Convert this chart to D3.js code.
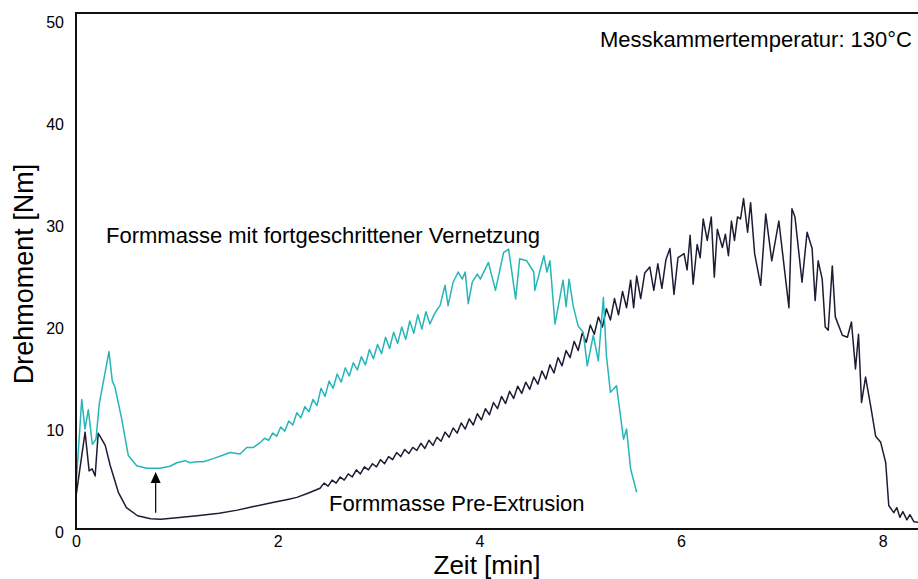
<!DOCTYPE html>
<html>
<head>
<meta charset="utf-8">
<script src="https://cdn.jsdelivr.net/npm/d3@7"></script>
<style>
  html, body { margin: 0; padding: 0; background: #fff; }
  svg { display: block; font-family: Arial, "Liberation Sans", sans-serif; }
</style>
</head>
<body>
<svg id="chart" width="918" height="579"></svg>
<script>
// ---------- data ----------
const xTicks = [0, 2, 4, 6, 8];
const yTicks = [0, 10, 20, 30, 40, 50];

// Formmasse Pre-Extrusion (dark curve)
const preTime = [
  0.00, 0.09, 0.13, 0.16, 0.19, 0.22, 0.29, 0.34, 0.42, 0.50, 0.61, 0.74, 0.84, 1.00, 1.20, 1.42, 1.60, 1.76, 1.95, 2.10, 2.19, 2.30, 2.42,
  2.46, 2.50, 2.54, 2.58, 2.62, 2.66, 2.70, 2.74, 2.78, 2.82, 2.86, 2.90, 2.94, 2.98,
  3.02, 3.06, 3.10, 3.14, 3.18, 3.22, 3.26, 3.30, 3.34, 3.38, 3.42, 3.46, 3.50, 3.54, 3.58, 3.62, 3.66, 3.70, 3.74, 3.78, 3.82, 3.86, 3.90, 3.94, 3.98,
  4.02, 4.06, 4.10, 4.14, 4.18, 4.22, 4.26, 4.30, 4.34, 4.38, 4.42, 4.46, 4.50, 4.54, 4.58, 4.62, 4.66, 4.70, 4.74, 4.78, 4.82, 4.86, 4.90, 4.94, 4.98,
  5.02, 5.06, 5.10, 5.14, 5.18, 5.22, 5.26, 5.30, 5.34, 5.38, 5.42, 5.46, 5.50, 5.53, 5.56, 5.60, 5.64, 5.69, 5.73, 5.77, 5.81, 5.85, 5.89, 5.93, 5.97,
  6.03, 6.06, 6.09, 6.12, 6.16, 6.19, 6.22, 6.26, 6.30, 6.33, 6.36, 6.41, 6.44, 6.47, 6.50, 6.53, 6.56, 6.59, 6.62, 6.66, 6.69, 6.73, 6.79, 6.84, 6.90, 6.97,
  7.07, 7.10, 7.13, 7.20, 7.25, 7.30, 7.33, 7.36, 7.40, 7.43, 7.46, 7.50, 7.53, 7.60, 7.65, 7.69, 7.73, 7.76, 7.79, 7.83, 7.88, 7.93, 7.98,
  8.03, 8.06, 8.11, 8.14, 8.17, 8.20, 8.24, 8.27, 8.31, 8.35
];
const preTorque = [
  3.2, 9.5, 5.7, 5.9, 5.2, 9.4, 8.2, 6.2, 3.6, 2.1, 1.3, 1.0, 0.95, 1.1, 1.3, 1.55, 1.85, 2.2, 2.6, 2.9, 3.1, 3.5, 4.0,
  4.5, 4.2, 4.8, 4.5, 5.1, 4.8, 5.4, 5.1, 5.8, 5.4, 6.1, 5.8, 6.4, 6.1,
  6.8, 6.4, 7.1, 6.8, 7.5, 7.1, 7.8, 7.4, 8.0, 7.7, 8.4, 7.9, 8.7, 8.2, 9.0, 8.6, 9.5, 9.0, 9.9, 9.4, 10.4, 9.8, 10.8, 10.2, 11.3,
  10.7, 11.8, 11.2, 12.4, 11.8, 13.0, 12.3, 13.5, 12.8, 14.0, 13.3, 14.4, 13.7, 14.9, 14.2, 15.5, 14.7, 16.1, 15.3, 16.8, 16.0, 17.5, 16.8, 18.4, 17.5,
  19.2, 18.3, 20.0, 19.1, 20.8, 19.8, 21.6, 20.5, 22.6, 21.0, 23.3, 21.7, 24.4, 21.7, 24.8, 22.6, 25.1, 25.7, 23.4, 26.0, 23.6, 26.4, 27.5, 23.0, 26.6,
  27.0, 25.4, 28.8, 24.0, 27.9, 26.6, 30.4, 28.3, 30.6, 24.7, 29.4, 27.6, 28.9, 26.8, 30.2, 28.3, 30.6, 30.4, 32.4, 29.1, 32.0, 27.0, 23.9, 30.9, 26.3, 30.2,
  21.7, 31.4, 30.6, 24.2, 29.1, 27.5, 22.4, 26.3, 24.5, 19.8, 19.5, 25.8, 20.8, 19.0, 18.8, 20.3, 15.7, 19.1, 12.4, 14.9, 12.1, 9.1, 8.5,
  6.5, 2.3, 1.6, 2.1, 1.15, 1.7, 0.9, 1.4, 0.7, 0.65
];

// Formmasse mit fortgeschrittener Vernetzung (teal curve)
const vernTime = [
  0.00, 0.057, 0.089, 0.122, 0.162, 0.198, 0.231, 0.327, 0.360, 0.387, 0.453, 0.519, 0.602, 0.701, 0.833, 0.933, 0.999, 1.081, 1.131, 1.197, 1.263, 1.362, 1.461, 1.528, 1.627, 1.693, 1.76,
  1.83, 1.87, 1.91, 1.95, 1.99, 2.03, 2.07, 2.11, 2.15, 2.19, 2.23, 2.27, 2.31, 2.35, 2.39, 2.43, 2.47, 2.51, 2.55, 2.59, 2.63, 2.67, 2.71, 2.75, 2.79,
  2.83, 2.87, 2.91, 2.95, 2.99, 3.03, 3.07, 3.11, 3.15, 3.19, 3.23, 3.27, 3.31, 3.35, 3.39, 3.43, 3.47, 3.51, 3.55, 3.58,
  3.61, 3.66, 3.69, 3.74, 3.79, 3.83, 3.86, 3.89, 3.93, 3.98, 4.01, 4.09, 4.16, 4.24, 4.29, 4.36, 4.40, 4.47, 4.54, 4.55, 4.64, 4.67, 4.70, 4.75,
  4.83, 4.86, 4.89, 4.93, 4.98, 5.03, 5.07, 5.13, 5.18, 5.23, 5.26, 5.30, 5.36, 5.43, 5.46, 5.50, 5.56
];
const vernTorque = [
  4.2, 12.7, 9.8, 11.7, 8.3, 8.8, 12.3, 17.4, 14.5, 13.9, 10.8, 7.2, 6.2, 5.95, 5.95, 6.15, 6.5, 6.7, 6.5, 6.6, 6.6, 6.9, 7.25, 7.5, 7.35, 8.0, 8.0,
  8.5, 8.9, 8.7, 9.4, 9.1, 10.0, 9.6, 10.6, 10.2, 11.4, 10.9, 12.0, 11.5, 12.7, 12.1, 13.8, 13.0, 14.5, 13.8, 15.2, 14.4, 15.8, 15.0, 16.3, 15.6,
  16.9, 16.1, 17.6, 16.7, 18.1, 17.2, 18.8, 17.7, 19.3, 18.2, 19.8, 18.6, 20.4, 19.2, 21.0, 19.6, 21.3, 20.1, 21.0, 21.5,
  21.9, 23.9, 21.9, 24.2, 25.2, 24.5, 25.2, 22.1, 24.2, 25.0, 24.5, 26.15, 23.4, 27.1, 27.45, 22.55, 26.5, 26.3, 25.2, 23.4, 26.8, 25.2, 26.3, 20.1,
  24.4, 21.8, 24.5, 21.9, 19.9, 19.3, 16.0, 19.0, 16.5, 22.7, 17.0, 13.4, 14.05, 8.8, 9.8, 5.9, 3.6
];

// annotations
const noteTemp = "Messkammertemperatur: 130°C";
const noteVern = "Formmasse mit fortgeschrittener Vernetzung";
const notePre = "Formmasse Pre-Extrusion";
const arrowTime = 0.79, arrowFrom = 1.6, arrowTo = 5.6;
const xTitle = "Zeit [min]";
const yTitle = "Drehmoment [Nm]";

// ---------- layout ----------
const svg = d3.select("#chart");
const x = d3.scaleLinear().domain([0, 8.35]).range([76, 918]);
const y = d3.scaleLinear().domain([0, 50.6]).range([529, 13]);

// curves
const line = d3.line().x(d => x(d[0])).y(d => y(d[1]));
const preData = preTime.map((t, i) => [t, preTorque[i]]);
const vernData = vernTime.map((t, i) => [t, vernTorque[i]]);

svg.append("path").datum(preData)
  .attr("d", line).attr("fill", "none")
  .attr("stroke", "#1c1c34").attr("stroke-width", 1.5).attr("stroke-linejoin", "round");
svg.append("path").datum(vernData)
  .attr("d", line).attr("fill", "none")
  .attr("stroke", "#26b5b8").attr("stroke-width", 1.5).attr("stroke-linejoin", "round");

// frame
svg.append("path")
  .attr("d", `M918,${y.range()[1]}H${x(0)}V${y(0)}H918`)
  .attr("fill", "none").attr("stroke", "#111").attr("stroke-width", 2);

// axes (labels only)
const yAxis = svg.append("g").attr("transform", `translate(${x(0)},0)`)
  .call(d3.axisLeft(y).tickValues(yTicks).tickSize(0).tickPadding(12));
yAxis.select(".domain").remove();
yAxis.selectAll("text").attr("dy", "0.55em").style("font-size", "16px").attr("fill", "#000")
  .style("font-family", "Arial, 'Liberation Sans', sans-serif");

const xAxis = svg.append("g").attr("transform", `translate(0,${y(0)})`)
  .call(d3.axisBottom(x).tickValues(xTicks).tickSize(0).tickPadding(7));
xAxis.select(".domain").remove();
xAxis.selectAll("text").style("font-size", "16px").attr("fill", "#000")
  .style("font-family", "Arial, 'Liberation Sans', sans-serif");

// axis titles
svg.append("text").attr("x", 487).attr("y", 574).attr("text-anchor", "middle")
  .style("font-size", "26px").text(xTitle);
svg.append("text").attr("transform", "translate(33,274) rotate(-90)").attr("text-anchor", "middle")
  .style("font-size", "27px").text(yTitle);

// annotation texts
svg.append("text").attr("x", 912).attr("y", 47).attr("text-anchor", "end")
  .style("font-size", "22px").text(noteTemp);
svg.append("text").attr("x", 106).attr("y", 243)
  .style("font-size", "22px").text(noteVern);
svg.append("text").attr("x", 329).attr("y", 511)
  .style("font-size", "22px").text(notePre);

// arrow
const ax = x(arrowTime);
const tipY = y(arrowTo);
svg.append("line").attr("x1", ax).attr("x2", ax)
  .attr("y1", y(arrowFrom)).attr("y2", tipY + 10)
  .attr("stroke", "#000").attr("stroke-width", 1.2);
svg.append("path")
  .attr("d", `M${ax},${tipY}L${ax - 5},${tipY + 11}L${ax + 5},${tipY + 11}Z`)
  .attr("fill", "#000");
</script>
</body>
</html>
